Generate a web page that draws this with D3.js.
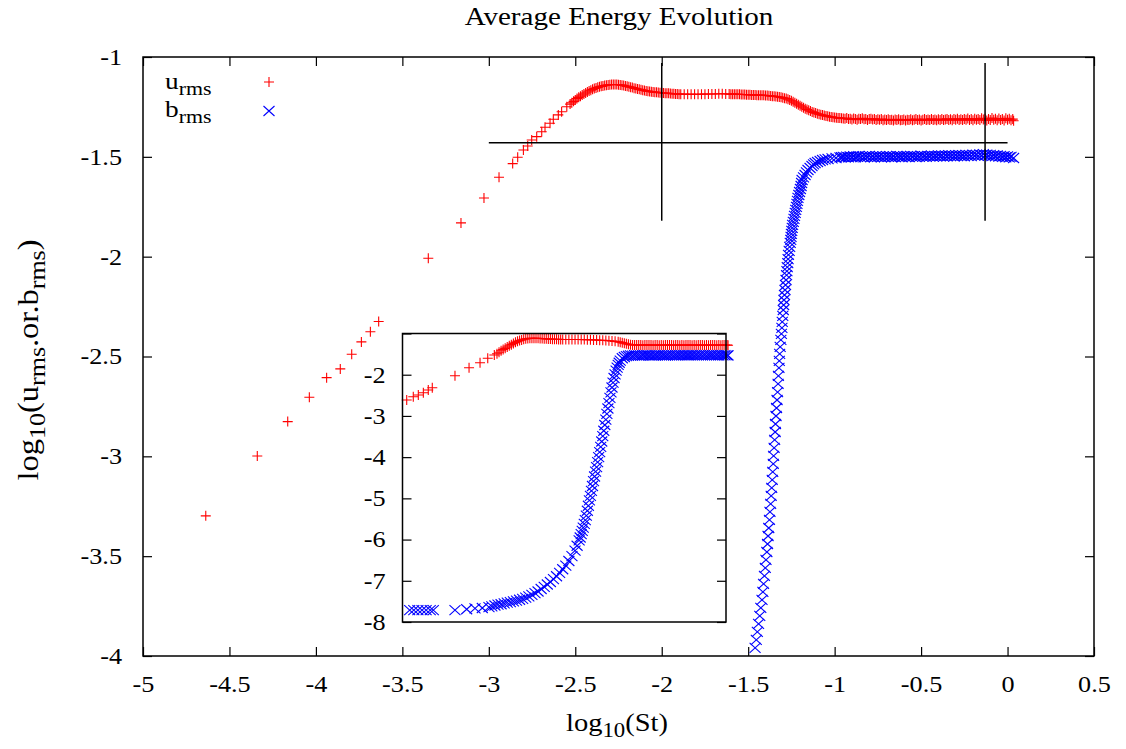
<!DOCTYPE html>
<html>
<head>
<meta charset="utf-8">
<script src="https://cdn.jsdelivr.net/npm/d3@7"></script>
<style>
  body { margin: 0; background: #fff; }
  svg { display: block; }
  text { font-family: "Liberation Serif", "Times New Roman", serif; fill: #000; }
</style>
</head>
<body>
<div id="chart"></div>
<script>
// tick values
const xTicks = [-5, -4.5, -4, -3.5, -3, -2.5, -2, -1.5, -1, -0.5, 0, 0.5]
const yTicks = [-1, -1.5, -2, -2.5, -3, -3.5, -4]
const insetYTicks = [-1, -2, -3, -4, -5, -6, -7, -8]

// u_rms, main panel  [log10(St), log10(u_rms)]
const uRms = [
  [-4.637,-3.298],[-4.339,-2.998],[-4.163,-2.826],[-4.038,-2.704],[-3.938,-2.606],[-3.859,-2.562],
  [-3.793,-2.489],[-3.737,-2.427],[-3.685,-2.376],[-3.637,-2.325],
  [-3.350,-2.008],[-3.161,-1.831],[-3.028,-1.706],[-2.941,-1.602],[-2.862,-1.534],[-2.833,-1.502],
  [-2.800,-1.466],[-2.775,-1.446],[-2.752,-1.416],[-2.723,-1.399],[-2.694,-1.374],[-2.675,-1.352],
  [-2.646,-1.332],[-2.627,-1.312],[-2.598,-1.290],[-2.579,-1.274],[-2.549,-1.249],
  [-2.53,-1.236],[-2.52,-1.229],[-2.51,-1.222],[-2.50,-1.215],[-2.49,-1.208],[-2.48,-1.202],
  [-2.47,-1.196],[-2.46,-1.190],[-2.45,-1.185],[-2.44,-1.180],[-2.43,-1.175],[-2.42,-1.170],
  [-2.41,-1.166],[-2.40,-1.162],[-2.39,-1.158],[-2.38,-1.155],[-2.37,-1.152],[-2.36,-1.149],
  [-2.35,-1.147],[-2.34,-1.145],[-2.33,-1.143],[-2.32,-1.141],[-2.31,-1.140],[-2.30,-1.139],
  [-2.29,-1.138],[-2.28,-1.138],[-2.27,-1.138],[-2.26,-1.138],[-2.25,-1.139],[-2.24,-1.140],
  [-2.23,-1.141],[-2.22,-1.143],[-2.21,-1.145],[-2.20,-1.147],[-2.19,-1.149],[-2.18,-1.151],
  [-2.17,-1.153],[-2.16,-1.156],[-2.15,-1.158],[-2.14,-1.160],[-2.13,-1.162],[-2.12,-1.164],
  [-2.11,-1.166],[-2.10,-1.168],[-2.09,-1.170],[-2.08,-1.171],[-2.07,-1.173],[-2.06,-1.174],
  [-2.05,-1.175],[-2.04,-1.176],[-2.03,-1.177],[-2.02,-1.178],[-2.01,-1.179],[-2.00,-1.179],
  [-1.99,-1.180],[-1.98,-1.181],[-1.97,-1.182],[-1.96,-1.182],[-1.95,-1.183],[-1.94,-1.184],
  [-1.93,-1.184],[-1.92,-1.185],[-1.91,-1.185],[-1.90,-1.186],[-1.89,-1.186],
  // sparser output stretch
  [-1.87,-1.186],[-1.85,-1.187],[-1.83,-1.186],[-1.81,-1.187],[-1.79,-1.187],[-1.77,-1.186],
  [-1.75,-1.186],[-1.73,-1.185],[-1.71,-1.185],[-1.69,-1.185],[-1.67,-1.184],[-1.65,-1.184],
  [-1.63,-1.185],[-1.61,-1.185],
  [-1.60,-1.186],[-1.59,-1.186],[-1.58,-1.186],[-1.57,-1.187],[-1.56,-1.187],[-1.55,-1.187],
  [-1.54,-1.188],[-1.53,-1.188],[-1.52,-1.188],[-1.51,-1.189],[-1.50,-1.189],[-1.49,-1.189],
  [-1.48,-1.190],[-1.47,-1.190],[-1.46,-1.190],[-1.45,-1.191],[-1.44,-1.191],[-1.43,-1.191],
  [-1.42,-1.192],[-1.41,-1.192],[-1.40,-1.193],[-1.39,-1.193],[-1.38,-1.194],[-1.37,-1.195],
  [-1.36,-1.196],[-1.35,-1.197],[-1.34,-1.198],[-1.33,-1.199],[-1.32,-1.200],[-1.31,-1.202],
  [-1.30,-1.204],[-1.29,-1.206],[-1.28,-1.208],[-1.27,-1.211],[-1.26,-1.215],[-1.25,-1.219],
  [-1.24,-1.224],[-1.23,-1.229],[-1.22,-1.234],[-1.21,-1.239],[-1.20,-1.244],[-1.19,-1.249],
  [-1.18,-1.254],[-1.17,-1.259],[-1.16,-1.263],[-1.15,-1.267],[-1.14,-1.271],[-1.13,-1.275],
  [-1.12,-1.278],[-1.11,-1.281],[-1.10,-1.284],[-1.09,-1.287],[-1.08,-1.289],[-1.07,-1.291],
  [-1.06,-1.293],[-1.05,-1.295],[-1.04,-1.297],[-1.03,-1.299],[-1.02,-1.300],[-1.01,-1.302],
  [-1.00,-1.303],[-0.99,-1.304],[-0.98,-1.305],[-0.97,-1.306],[-0.96,-1.307],[-0.95,-1.308],
  // saturated, noisy
  [-0.94,-1.309],[-0.93,-1.306],[-0.92,-1.311],[-0.91,-1.309],[-0.90,-1.313],[-0.89,-1.308],
  [-0.88,-1.310],[-0.87,-1.314],[-0.86,-1.309],[-0.85,-1.311],[-0.84,-1.307],[-0.83,-1.312],
  [-0.82,-1.310],[-0.81,-1.315],[-0.80,-1.311],[-0.79,-1.309],[-0.78,-1.313],[-0.77,-1.310],
  [-0.76,-1.316],[-0.75,-1.312],[-0.74,-1.314],[-0.73,-1.311],[-0.72,-1.317],[-0.71,-1.313],
  [-0.70,-1.315],[-0.69,-1.312],[-0.68,-1.316],[-0.67,-1.314],[-0.66,-1.318],[-0.65,-1.313],
  [-0.64,-1.316],[-0.63,-1.312],[-0.62,-1.317],[-0.61,-1.315],[-0.60,-1.313],[-0.59,-1.318],
  [-0.58,-1.314],[-0.57,-1.316],[-0.56,-1.312],[-0.55,-1.317],[-0.54,-1.314],[-0.53,-1.311],
  [-0.52,-1.316],[-0.51,-1.313],[-0.50,-1.318],[-0.49,-1.314],[-0.48,-1.311],[-0.47,-1.316],
  [-0.46,-1.313],[-0.45,-1.315],[-0.44,-1.310],[-0.43,-1.316],[-0.42,-1.313],[-0.41,-1.317],
  [-0.40,-1.312],[-0.39,-1.315],[-0.38,-1.311],[-0.37,-1.316],[-0.36,-1.313],[-0.35,-1.310],
  [-0.34,-1.315],[-0.33,-1.312],[-0.32,-1.317],[-0.31,-1.311],[-0.30,-1.314],[-0.29,-1.309],
  [-0.28,-1.315],[-0.27,-1.312],[-0.26,-1.316],[-0.25,-1.310],[-0.24,-1.314],[-0.23,-1.308],
  [-0.22,-1.315],[-0.21,-1.311],[-0.20,-1.317],[-0.19,-1.309],[-0.18,-1.314],[-0.17,-1.310],
  [-0.16,-1.316],[-0.15,-1.307],[-0.14,-1.313],[-0.13,-1.309],[-0.12,-1.318],[-0.11,-1.310],
  [-0.10,-1.315],[-0.09,-1.306],[-0.08,-1.314],[-0.07,-1.309],[-0.06,-1.317],[-0.05,-1.308],
  [-0.04,-1.315],[-0.03,-1.310],[-0.02,-1.318],[-0.01,-1.307],[0.00,-1.314],[0.01,-1.309],
  [0.02,-1.317],[0.03,-1.311],[0.035,-1.319]
]

// b_rms, main panel
const bRms = [
  [-1.460,-3.959],[-1.453,-3.919],[-1.447,-3.879],[-1.440,-3.839],[-1.433,-3.799],[-1.427,-3.759],
  [-1.420,-3.719],[-1.415,-3.679],[-1.411,-3.639],[-1.406,-3.599],[-1.401,-3.559],[-1.397,-3.519],
  [-1.392,-3.479],[-1.388,-3.439],[-1.385,-3.399],[-1.381,-3.359],[-1.377,-3.318],[-1.374,-3.278],
  [-1.370,-3.238],[-1.367,-3.198],[-1.364,-3.158],[-1.361,-3.118],[-1.358,-3.078],[-1.355,-3.038],
  [-1.353,-2.998],[-1.350,-2.958],[-1.347,-2.918],[-1.344,-2.878],[-1.342,-2.838],[-1.339,-2.798],
  [-1.336,-2.758],[-1.333,-2.718],[-1.330,-2.678],[-1.327,-2.637],[-1.325,-2.597],[-1.322,-2.557],
  [-1.320,-2.522],[-1.318,-2.487],[-1.315,-2.452],[-1.311,-2.417],[-1.308,-2.387],[-1.305,-2.357],
  [-1.303,-2.327],[-1.300,-2.297],[-1.297,-2.267],[-1.295,-2.242],[-1.293,-2.217],[-1.290,-2.192],
  [-1.287,-2.167],[-1.284,-2.142],[-1.281,-2.117],[-1.278,-2.092],[-1.276,-2.072],[-1.274,-2.052],
  [-1.271,-2.032],[-1.269,-2.012],[-1.267,-1.991],[-1.263,-1.971],[-1.260,-1.951],[-1.257,-1.931],
  [-1.254,-1.916],[-1.252,-1.901],[-1.250,-1.886],[-1.248,-1.871],[-1.245,-1.856],[-1.243,-1.841],
  [-1.239,-1.826],[-1.235,-1.811],[-1.232,-1.796],[-1.228,-1.781],[-1.225,-1.766],[-1.221,-1.751],
  [-1.218,-1.736],[-1.215,-1.721],[-1.212,-1.706],[-1.207,-1.691],[-1.203,-1.676],[-1.198,-1.661],
  [-1.194,-1.646],[-1.191,-1.631],[-1.188,-1.616],[-1.180,-1.603],[-1.171,-1.591],[-1.163,-1.578],
  [-1.154,-1.566],[-1.142,-1.556],[-1.131,-1.546],[-1.122,-1.538],[-1.113,-1.531],[-1.099,-1.526],
  [-1.084,-1.521],[-1.070,-1.516],[-1.055,-1.513],[-1.038,-1.511],[-1.015,-1.508],[-0.992,-1.506],
  [-0.969,-1.503],
  [-0.96,-1.502],[-0.95,-1.500],[-0.94,-1.503],[-0.93,-1.499],[-0.92,-1.502],[-0.91,-1.498],
  [-0.90,-1.501],[-0.89,-1.497],[-0.88,-1.502],[-0.87,-1.499],[-0.86,-1.496],[-0.85,-1.501],
  [-0.84,-1.498],[-0.83,-1.503],[-0.82,-1.497],[-0.81,-1.500],[-0.80,-1.495],[-0.79,-1.501],
  [-0.78,-1.498],[-0.77,-1.502],[-0.76,-1.496],[-0.75,-1.500],[-0.74,-1.497],[-0.73,-1.503],
  [-0.72,-1.498],[-0.71,-1.501],[-0.70,-1.496],[-0.69,-1.500],[-0.68,-1.497],[-0.67,-1.502],
  [-0.66,-1.498],[-0.65,-1.501],[-0.64,-1.495],[-0.63,-1.499],[-0.62,-1.497],[-0.61,-1.502],
  [-0.60,-1.496],[-0.59,-1.500],[-0.58,-1.497],[-0.57,-1.501],[-0.56,-1.495],[-0.55,-1.499],
  [-0.54,-1.496],[-0.53,-1.501],[-0.52,-1.497],[-0.51,-1.500],[-0.50,-1.494],[-0.49,-1.499],
  [-0.48,-1.496],[-0.47,-1.500],[-0.46,-1.495],[-0.45,-1.498],[-0.44,-1.494],[-0.43,-1.499],
  [-0.42,-1.495],[-0.41,-1.498],[-0.40,-1.493],[-0.39,-1.497],[-0.38,-1.494],[-0.37,-1.499],
  [-0.36,-1.493],[-0.35,-1.497],[-0.34,-1.492],[-0.33,-1.496],[-0.32,-1.493],[-0.31,-1.498],
  [-0.30,-1.492],[-0.29,-1.496],[-0.28,-1.491],[-0.27,-1.495],[-0.26,-1.492],[-0.25,-1.497],
  [-0.24,-1.490],[-0.23,-1.495],[-0.22,-1.491],[-0.21,-1.496],[-0.20,-1.489],[-0.19,-1.494],
  [-0.18,-1.490],[-0.17,-1.495],[-0.16,-1.488],[-0.15,-1.493],[-0.14,-1.486],[-0.13,-1.492],
  [-0.12,-1.489],[-0.11,-1.494],[-0.10,-1.490],[-0.09,-1.496],[-0.08,-1.492],[-0.07,-1.497],
  [-0.06,-1.493],[-0.05,-1.499],[-0.04,-1.495],[-0.03,-1.500],[-0.02,-1.497],[-0.01,-1.502],
  [0.00,-1.498],[0.01,-1.503],[0.02,-1.500],[0.035,-1.506]
]

// inset panel (whole range of b_rms)
const uRmsInset = [
  [-3.379,-2.614],[-3.315,-2.534],[-3.266,-2.493],[-3.217,-2.437],[-3.169,-2.371],[-3.130,-2.316],
  [-2.909,-2.024],[-2.772,-1.830],[-2.665,-1.709],[-2.590,-1.602],[-2.526,-1.522],
  [-2.50,-1.490],[-2.48,-1.455],[-2.46,-1.420],[-2.44,-1.390],[-2.42,-1.360],[-2.40,-1.330],
  [-2.38,-1.300],[-2.36,-1.270],[-2.34,-1.240],[-2.32,-1.215],[-2.30,-1.190],[-2.28,-1.170],
  [-2.26,-1.155],[-2.24,-1.140],[-2.22,-1.130],[-2.20,-1.122],[-2.18,-1.117],[-2.16,-1.115],
  [-2.14,-1.114],[-2.12,-1.115],[-2.10,-1.117],[-2.08,-1.120],[-2.06,-1.123],[-2.04,-1.126],
  [-2.02,-1.130],[-2.00,-1.133],[-1.98,-1.136],[-1.96,-1.138],[-1.94,-1.140],[-1.92,-1.142],
  [-1.90,-1.143],[-1.88,-1.144],[-1.86,-1.145],
  [-1.83,-1.146],[-1.80,-1.146],[-1.77,-1.146],[-1.74,-1.146],[-1.71,-1.147],[-1.68,-1.147],
  [-1.65,-1.148],[-1.62,-1.150],[-1.59,-1.152],[-1.56,-1.155],[-1.53,-1.158],[-1.50,-1.162],
  [-1.47,-1.166],[-1.44,-1.170],[-1.41,-1.175],[-1.38,-1.181],[-1.35,-1.190],[-1.32,-1.200],
  [-1.30,-1.210],[-1.28,-1.222],[-1.26,-1.235],[-1.24,-1.248],[-1.22,-1.260],[-1.20,-1.270],
  [-1.18,-1.277],[-1.16,-1.280],[-1.14,-1.278],[-1.12,-1.282],[-1.10,-1.279],[-1.08,-1.283],
  [-1.06,-1.280],[-1.04,-1.277],[-1.02,-1.282],[-1.00,-1.279],[-0.98,-1.284],[-0.96,-1.280],
  [-0.94,-1.278],[-0.92,-1.283],[-0.90,-1.279],[-0.88,-1.285],[-0.86,-1.280],[-0.84,-1.277],
  [-0.82,-1.282],[-0.80,-1.279],[-0.78,-1.284],[-0.76,-1.280],[-0.74,-1.278],[-0.72,-1.283],
  [-0.70,-1.280],[-0.68,-1.285],[-0.66,-1.279],[-0.64,-1.282],[-0.62,-1.278],[-0.60,-1.283],
  [-0.58,-1.280],[-0.56,-1.285],[-0.54,-1.279],[-0.52,-1.282],[-0.50,-1.278],[-0.48,-1.284],
  [-0.46,-1.280],[-0.44,-1.283],[-0.42,-1.278],[-0.40,-1.282],[-0.38,-1.279],[-0.36,-1.285],
  [-0.34,-1.280],[-0.32,-1.283],[-0.30,-1.278],[-0.28,-1.282],[-0.26,-1.280],[-0.25,-1.284]
]

const bRmsInset = [
  [-3.35,-7.711],[-3.31,-7.711],[-3.27,-7.711],[-3.23,-7.711],[-3.19,-7.711],[-3.15,-7.711],
  [-3.12,-7.711],
  [-2.909,-7.711],[-2.795,-7.690],[-2.714,-7.670],[-2.643,-7.660],[-2.578,-7.640],
  [-2.55,-7.62],[-2.52,-7.60],[-2.49,-7.58],[-2.46,-7.57],[-2.43,-7.55],[-2.40,-7.53],
  [-2.37,-7.52],[-2.34,-7.50],[-2.31,-7.48],[-2.28,-7.46],[-2.25,-7.44],[-2.22,-7.41],
  [-2.19,-7.38],[-2.16,-7.34],[-2.13,-7.30],[-2.10,-7.26],[-2.07,-7.20],[-2.04,-7.15],
  [-2.01,-7.09],[-1.98,-7.03],[-1.95,-6.96],[-1.92,-6.89],[-1.89,-6.81],[-1.86,-6.72],
  [-1.83,-6.63],[-1.80,-6.52],[-1.77,-6.40],[-1.74,-6.27],[-1.72,-6.15],
  [-1.70,-6.02],[-1.69,-5.95],[-1.68,-5.87],[-1.67,-5.79],[-1.66,-5.71],[-1.65,-5.62],
  [-1.64,-5.53],[-1.63,-5.42],[-1.62,-5.30],[-1.61,-5.18],[-1.60,-5.05],[-1.59,-4.94],
  [-1.58,-4.82],[-1.57,-4.70],[-1.56,-4.58],[-1.55,-4.47],[-1.54,-4.35],[-1.53,-4.24],
  [-1.52,-4.12],[-1.51,-4.00],[-1.50,-3.88],[-1.49,-3.75],[-1.48,-3.62],[-1.47,-3.49],
  [-1.46,-3.36],[-1.45,-3.22],[-1.44,-3.09],[-1.43,-2.95],[-1.42,-2.82],[-1.41,-2.69],
  [-1.40,-2.56],[-1.39,-2.43],[-1.38,-2.31],[-1.37,-2.19],[-1.36,-2.08],[-1.35,-1.99],
  [-1.34,-1.90],[-1.33,-1.83],[-1.32,-1.76],[-1.31,-1.71],[-1.30,-1.66],[-1.28,-1.60],
  [-1.26,-1.57],[-1.24,-1.55],[-1.22,-1.54],
  [-1.20,-1.530],[-1.18,-1.535],[-1.16,-1.527],[-1.14,-1.533],[-1.12,-1.529],[-1.10,-1.536],
  [-1.08,-1.528],[-1.06,-1.532],[-1.04,-1.526],[-1.02,-1.534],[-1.00,-1.529],[-0.98,-1.535],
  [-0.96,-1.527],[-0.94,-1.531],[-0.92,-1.526],[-0.90,-1.533],[-0.88,-1.528],[-0.86,-1.534],
  [-0.84,-1.527],[-0.82,-1.532],[-0.80,-1.525],[-0.78,-1.531],[-0.76,-1.527],[-0.74,-1.533],
  [-0.72,-1.526],[-0.70,-1.530],[-0.68,-1.524],[-0.66,-1.531],[-0.64,-1.527],[-0.62,-1.532],
  [-0.60,-1.525],[-0.58,-1.530],[-0.56,-1.524],[-0.54,-1.529],[-0.52,-1.526],[-0.50,-1.531],
  [-0.48,-1.524],[-0.46,-1.529],[-0.44,-1.523],[-0.42,-1.528],[-0.40,-1.525],[-0.38,-1.530],
  [-0.36,-1.524],[-0.34,-1.529],[-0.32,-1.526],[-0.30,-1.532],[-0.28,-1.527],[-0.26,-1.533],
  [-0.25,-1.529]
]

// black guide lines: horizontal [x1, x2, y], vertical [x, y1, y2]
const hGuides = [[-3, 0, -1.43]]
const vGuides = [[-2, -1.03, -1.82], [-0.13, -1.03, -1.82]]

const W = 1126, H = 749
const sx = 1.14   // the picture is a bit wider than tall, glyphs too
const fs = 23

const svg = d3.select('#chart').append('svg')
  .attr('width', W).attr('height', H)

// Main panel scales
const x = d3.scaleLinear().domain([-5, 0.5]).range([143, 1094])
const y = d3.scaleLinear().domain([-4, -1]).range([656, 57])

// Marker shapes (gnuplot pt 1 and pt 2)
const plus = 'M-5,0H5M0,-5V5'
const cross = 'M-5.5,-5L5.5,5M-5.5,5L5.5,-5'

function stretch(sel) {
  sel.attr('transform', function () {
    const t = d3.select(this)
    const tx = +t.attr('x') || 0, ty = +t.attr('y') || 0
    return `translate(${tx},${ty}) scale(${sx},1) translate(${-tx},${-ty})`
  })
}

// axes, inward ticks on all sides
const fmt = d => String(d)
svg.append('g')
   .attr('transform', `translate(0, ${y.range()[0]})`)
   .call(d3.axisBottom(x).tickValues(xTicks).tickFormat(fmt).tickSize(-9).tickPadding(20))
   .call(g => g.selectAll('text').style('font-size', fs + 'px'))
svg.append('g')
   .attr('transform', `translate(0, ${y.range()[1]})`)
   .call(d3.axisTop(x).tickValues(xTicks).tickFormat('').tickSize(-9))
svg.append('g')
   .attr('transform', `translate(${x.range()[0]}, 0)`)
   .call(d3.axisLeft(y).tickValues(yTicks).tickFormat(fmt).tickSize(-9).tickPadding(21))
   .call(g => g.selectAll('text').style('font-size', fs + 'px'))
svg.append('g')
   .attr('transform', `translate(${x.range()[1]}, 0)`)
   .call(d3.axisRight(y).tickValues(yTicks).tickFormat('').tickSize(-9))
svg.selectAll('.domain').remove()
svg.selectAll('.tick line').attr('stroke', '#000').attr('stroke-width', 1.2)
svg.selectAll('.tick text').call(stretch)

// data
svg.append('g')
   .selectAll('path')
   .data(uRms)
   .enter()
   .append('path')
   .attr('d', plus)
   .attr('transform', d => `translate(${x(d[0])},${y(d[1])})`)
   .attr('fill', 'none')
   .attr('stroke', '#ff0000')
   .attr('stroke-width', 1.1)

svg.append('g')
   .selectAll('path')
   .data(bRms)
   .enter()
   .append('path')
   .attr('d', cross)
   .attr('transform', d => `translate(${x(d[0])},${y(d[1])})`)
   .attr('fill', 'none')
   .attr('stroke', '#0000ff')
   .attr('stroke-width', 1.1)

// guide lines
svg.append('g').selectAll('line').data(hGuides).enter().append('line')
   .attr('x1', d => x(d[0])).attr('x2', d => x(d[1]))
   .attr('y1', d => y(d[2])).attr('y2', d => y(d[2]))
   .attr('stroke', '#000').attr('stroke-width', 1.5)
svg.append('g').selectAll('line').data(vGuides).enter().append('line')
   .attr('x1', d => x(d[0])).attr('x2', d => x(d[0]))
   .attr('y1', d => y(d[1])).attr('y2', d => y(d[2]))
   .attr('stroke', '#000').attr('stroke-width', 1.5)

// frame
svg.append('rect')
   .attr('x', x.range()[0]).attr('y', y.range()[1])
   .attr('width', x.range()[1] - x.range()[0])
   .attr('height', y.range()[0] - y.range()[1])
   .attr('fill', 'none').attr('stroke', '#000').attr('stroke-width', 1.5)

// Inset
const xi = d3.scaleLinear().domain([-3.42, -0.27]).range([402.5, 726])
const yi = d3.scaleLinear().domain([-8, -1]).range([622, 333.5])
const inset = svg.append('g')
inset.append('rect')
     .attr('x', xi.range()[0]).attr('y', yi.range()[1])
     .attr('width', xi.range()[1] - xi.range()[0])
     .attr('height', yi.range()[0] - yi.range()[1])
     .attr('fill', '#fff')
inset.append('g')
     .attr('transform', `translate(${xi.range()[0]}, 0)`)
     .call(d3.axisLeft(yi).tickValues(insetYTicks).tickFormat(d => d === -1 ? '' : String(d)).tickSize(-9).tickPadding(17))
     .call(g => g.selectAll('text').style('font-size', fs + 'px'))
inset.append('g')
     .attr('transform', `translate(${xi.range()[1]}, 0)`)
     .call(d3.axisRight(yi).tickValues(insetYTicks).tickFormat('').tickSize(-9))
inset.selectAll('.domain').remove()
inset.selectAll('.tick line').attr('stroke', '#000').attr('stroke-width', 1.2)
inset.selectAll('.tick text').call(stretch)

inset.append('g')
     .selectAll('path')
     .data(uRmsInset)
     .enter()
     .append('path')
     .attr('d', plus)
     .attr('transform', d => `translate(${xi(d[0])},${yi(d[1])})`)
     .attr('fill', 'none')
     .attr('stroke', '#ff0000')
     .attr('stroke-width', 1.1)
inset.append('g')
     .selectAll('path')
     .data(bRmsInset)
     .enter()
     .append('path')
     .attr('d', cross)
     .attr('transform', d => `translate(${xi(d[0])},${yi(d[1])})`)
     .attr('fill', 'none')
     .attr('stroke', '#0000ff')
     .attr('stroke-width', 1.1)
inset.append('rect')
     .attr('x', xi.range()[0]).attr('y', yi.range()[1])
     .attr('width', xi.range()[1] - xi.range()[0])
     .attr('height', yi.range()[0] - yi.range()[1])
     .attr('fill', 'none').attr('stroke', '#000').attr('stroke-width', 1.5)

// labels with subscripts
function subText(parent, px, py, parts, opts = {}) {
  const size = opts.size || fs
  const t = parent.append('text')
    .style('font-size', size + 'px')
    .attr('text-anchor', opts.anchor || 'start')
  parts.forEach((p, i) => {
    const sub = p.startsWith('_')
    const prevSub = i > 0 && parts[i - 1].startsWith('_')
    t.append('tspan')
     .attr('dy', sub ? '0.3em' : (prevSub ? '-0.24em' : null))
     .style('font-size', sub ? (size * 0.8) + 'px' : null)
     .text(sub ? p.slice(1) : p)
  })
  const extra = opts.rotate ? ` rotate(-90) scale(${opts.len || 1},1)` : ''
  t.attr('transform', `translate(${px},${py}) scale(${sx},1)${extra}`)
  return t
}

svg.append('text')
   .attr('text-anchor', 'middle')
   .style('font-size', '25.5px')
   .attr('transform', `translate(619,25) scale(${sx},1)`)
   .text('Average Energy Evolution')

subText(svg, 617, 731, ['log', '_10', '(St)'], { anchor: 'middle', size: 25 })
subText(svg, 38, 360, ['log', '_10', '(u', '_rms', '.or.b', '_rms', ')'],
        { anchor: 'middle', rotate: true, size: 25, len: 1.3 })

// legend
const legend = svg.append('g')
subText(legend, 165, 89, ['u', '_rms'], { size: 24 })
subText(legend, 165, 117, ['b', '_rms'], { size: 24 })
legend.append('path').attr('d', plus).attr('transform', 'translate(269,82)')
      .attr('fill', 'none').attr('stroke', '#ff0000').attr('stroke-width', 1.1)
legend.append('path').attr('d', cross).attr('transform', 'translate(269,111)')
      .attr('fill', 'none').attr('stroke', '#0000ff').attr('stroke-width', 1.1)
</script>
</body>
</html>
